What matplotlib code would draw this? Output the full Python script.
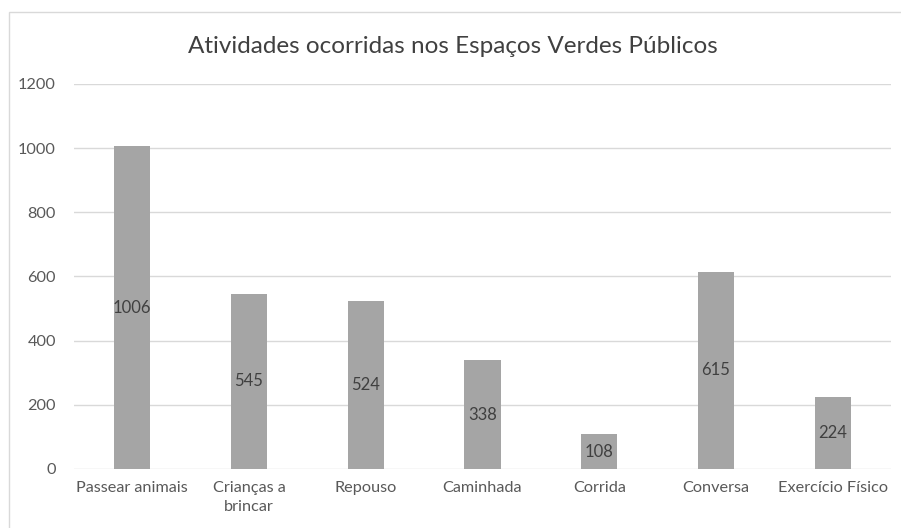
import numpy as np
import matplotlib.pyplot as plt
from matplotlib.patches import Rectangle

categorias = ['Passear animais', 'Crianças a\nbrincar', 'Repouso', 'Caminhada',
              'Corrida', 'Conversa', 'Exercício Físico']
valores = [1006, 545, 524, 338, 108, 615, 224]
yticks = [0, 200, 400, 600, 800, 1000, 1200]

plt.rcParams['font.family'] = ['Lato', 'DejaVu Sans']

fig = plt.figure(figsize=(9.01, 5.28), dpi=100)
ax = fig.add_axes([0.082, 0.112, 0.907, 0.729])

x = np.arange(len(categorias))
bars = ax.bar(x, valores, width=0.31, color='#a5a5a5', zorder=2)

for b, v in zip(bars, valores):
    ax.text(b.get_x() + b.get_width() / 2, v / 2, str(v), ha='center', va='center',
            fontsize=12, color='#404040', zorder=3)

ax.set_xlim(-0.5, len(categorias) - 0.5)
ax.set_ylim(0, 1200)
ax.set_yticks(yticks)
ax.set_xticks(x)
ax.set_xticklabels(categorias, fontsize=11.7, color='#595959', linespacing=1.45)
ax.tick_params(axis='y', labelsize=11.7, labelcolor='#595959', length=0, pad=13)
ax.tick_params(axis='x', length=0, pad=9)
ax.yaxis.grid(True, color='#d9d9d9', linewidth=1)
for s in ax.spines.values():
    s.set_visible(False)

fig.text(0.503, 0.912, 'Atividades ocorridas nos Espaços Verdes Públicos',
         ha='center', va='center', fontsize=17.5, color='#404040')

# chart border
fig.patches.append(Rectangle((9 / 901, -0.01), 0.995, 1 - 12 / 528 + 0.01,
                             transform=fig.transFigure, fill=False,
                             edgecolor='#d9d9d9', linewidth=1))

fig.savefig('out.png', dpi=100)
